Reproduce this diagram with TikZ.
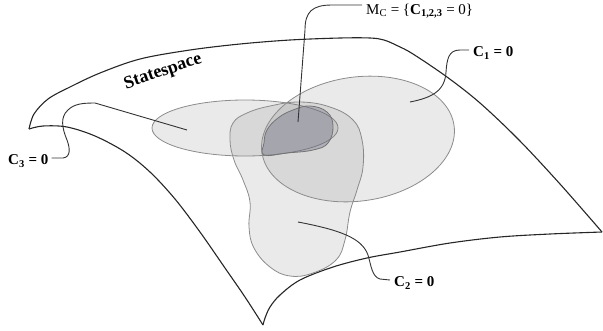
\documentclass[tikz,border=0pt]{standalone}
\usepackage{fontspec}
\setmainfont{Liberation Serif}
\definecolor{coregray}{RGB}{100,100,125}
\begin{document}
\begin{tikzpicture}[x=1pt,y=-1pt,
  surf/.style={line width=1.1pt, black!85, line join=round},
  blob/.style={draw=black!45, line width=0.8pt, fill=black!50, fill opacity=0.17},
  core/.style={draw=black!55, line width=0.8pt, fill=coregray, fill opacity=0.35},
  lead/.style={line width=0.9pt, black!80},
  lab/.style={font=\bfseries\fontsize{15}{16}\selectfont, inner sep=0pt}
]
\useasboundingbox (0,0) rectangle (603,330);

% statespace surface
\draw[surf] plot[smooth, tension=0.55] coordinates {(29,129) (34,114) (48,99) (70,87) (100,73) (140,59) (190,50) (240,44) (290,40) (340,38) (370,38) (384,40) (398,46) (413,54) (447,77) (480,103) (519,140) (560,184) (602,232)};
\draw[surf] plot[smooth, tension=0.55] coordinates {(602,232) (550,234) (500,237) (450,243) (400,252) (367,258) (333,267) (300,280) (280,295) (270,307) (265,318) (263,325)};
\draw[surf] plot[smooth, tension=0.55] coordinates {(263,325) (245,297) (225,268) (200,232) (175,199) (150,172) (125,152) (95,136) (67,127) (43,126) (29,129)};

% constraint sets
\draw[blob] (245,128) ellipse [x radius=93, y radius=28];
\draw[blob] plot[smooth cycle, tension=0.7] coordinates {(233,123) (230,140) (234,160) (243,180) (250,202) (249,227) (254,248) (270,267) (290,276) (313,273) (336,260) (345,240) (350,212) (357,190) (363,167) (362,140) (353,120) (330,107) (300,102) (270,106) (247,113)};
\begin{scope}[shift={(358,139)}, rotate=8]
\draw[blob] (0,0) ellipse [x radius=97, y radius=62];
\end{scope}
\draw[core] plot[smooth cycle, tension=0.7] coordinates {(264,143) (267,130) (278,118) (293,110) (310,106) (327,112) (333,126) (328,143) (313,150) (287,153) (264,155)};

% labels
\node[font=\bfseries\fontsize{18}{20}\selectfont, rotate=19, inner sep=0pt] (ss) at (163,72) {Statespace};
\node[lab, anchor=west] (c1) at (473,53) {C\textsubscript{1} = 0};
\node[lab, anchor=west] (c2) at (394,283) {C\textsubscript{2} = 0};
\node[lab, anchor=west] (c3) at (8,161) {C\textsubscript{3} = 0};
\node[font=\fontsize{15}{16}\selectfont, anchor=west, inner sep=0pt] (mc) at (366,11) {M\textsubscript{C} = \{\textbf{C\textsubscript{1,2,3}} = 0\}};

\coordinate (e3) at (187,130);
\coordinate (em) at (298,122);
\coordinate (e1) at (410,102);
\coordinate (e2) at (298,222);

% leaders
\draw[lead] ([shift={(-4,-6)}]mc.west) -- (332,5) .. controls (312,5) and (305,12) .. (305,30) -- (em);
\draw[lead] ([shift={(-4,-3)}]c1.west) -- (460,50) .. controls (448,50) and (447,60) .. (446,72) .. controls (445,92) and (430,98) .. (e1);
\draw[lead] ([shift={(-4,-3)}]c2.west) -- (380,279) .. controls (372,277) and (371,265) .. (368,255) .. controls (362,238) and (340,230) .. (e2);
\draw[lead] ([shift={(3,-3)}]c3.east) -- (63,158) .. controls (71,157) and (70,148) .. (67,140) .. controls (62,128) and (60,117) .. (68,110) .. controls (74,104) and (82,103) .. (95,103) -- (e3);
\end{tikzpicture}
\end{document}
